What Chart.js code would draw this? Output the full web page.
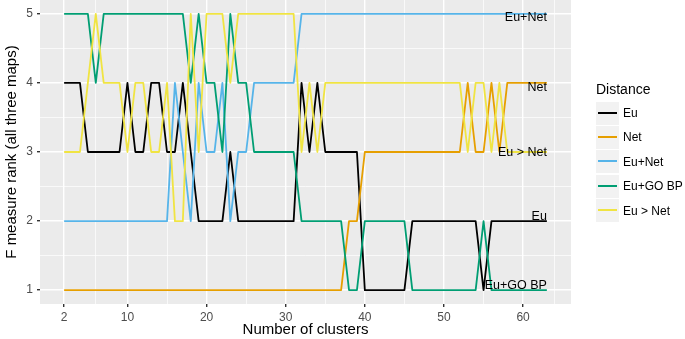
<!DOCTYPE html>
<html>
<head>
<meta charset="utf-8">
<script src="https://cdn.jsdelivr.net/npm/chart.js@4"></script>
<style>
  body { margin: 0; background: #fff; font-family: "Liberation Sans", Arial, sans-serif; }
  #wrap { position: relative; width: 685px; height: 339px; }
  #legend { position: absolute; left: 596px; top: 81px; }
  #legend .ttl { font-size: 14px; color: #000; height: 20px; line-height: 16px; }
  #legend .row { display: flex; align-items: center; height: 24px; margin-bottom: 0.4px; }
  #legend .key { width: 23px; height: 23px; background: #f2f2f2; position: relative; }
  #legend .key i { position: absolute; left: 2px; right: 2px; top: 10px; height: 2px; }
  #legend .lbl { font-size: 12px; margin-left: 4px; color: #000; }
</style>
</head>
<body>
<div id="wrap">
  <canvas id="rankChart" width="685" height="339"></canvas>
  <div id="legend"></div>
</div>
<script>
// number of clusters (x)
const clusters = [2, 3, 4, 5, 6, 7, 8, 9, 10, 11, 12, 13, 14, 15, 16, 17, 18, 19, 20, 21,
  22, 23, 24, 25, 26, 27, 28, 29, 30, 31, 32, 33, 34, 35, 36, 37, 38, 39, 40, 41,
  42, 43, 44, 45, 46, 47, 48, 49, 50, 51, 52, 53, 54, 55, 56, 57, 58, 59, 60, 61, 62, 63];

// F measure rank for each distance
const rankEu = [4, 4, 4, 3, 3, 3, 3, 3, 4, 3, 3, 4, 4, 3, 3, 4, 3, 2, 2, 2,
  2, 3, 2, 2, 2, 2, 2, 2, 2, 2, 4, 3, 4, 3, 3, 3, 3, 3, 1, 1,
  1, 1, 1, 1, 2, 2, 2, 2, 2, 2, 2, 2, 2, 1, 2, 2, 2, 2, 2, 2, 2, 2];
const rankNet = [1, 1, 1, 1, 1, 1, 1, 1, 1, 1, 1, 1, 1, 1, 1, 1, 1, 1, 1, 1,
  1, 1, 1, 1, 1, 1, 1, 1, 1, 1, 1, 1, 1, 1, 1, 1, 2, 2, 3, 3,
  3, 3, 3, 3, 3, 3, 3, 3, 3, 3, 3, 4, 3, 3, 4, 3, 4, 4, 4, 4, 4, 4];
const rankEuNet = [2, 2, 2, 2, 2, 2, 2, 2, 2, 2, 2, 2, 2, 2, 4, 3, 2, 4, 3, 3,
  4, 2, 3, 3, 4, 4, 4, 4, 4, 4, 5, 5, 5, 5, 5, 5, 5, 5, 5, 5,
  5, 5, 5, 5, 5, 5, 5, 5, 5, 5, 5, 5, 5, 5, 5, 5, 5, 5, 5, 5, 5, 5];
const rankEuGO = [5, 5, 5, 5, 4, 5, 5, 5, 5, 5, 5, 5, 5, 5, 5, 5, 4, 5, 4, 4,
  3, 5, 4, 4, 3, 3, 3, 3, 3, 3, 2, 2, 2, 2, 2, 2, 1, 1, 2, 2,
  2, 2, 2, 2, 1, 1, 1, 1, 1, 1, 1, 1, 1, 2, 1, 1, 1, 1, 1, 1, 1, 1];
const rankEuGtNet = [3, 3, 3, 4, 5, 4, 4, 4, 3, 4, 4, 3, 3, 4, 2, 2, 5, 3, 5, 5,
  5, 4, 5, 5, 5, 5, 5, 5, 5, 5, 3, 4, 3, 4, 4, 4, 4, 4, 4, 4,
  4, 4, 4, 4, 4, 4, 4, 4, 4, 4, 4, 3, 4, 4, 3, 4, 3, 3, 3, 3, 3, 3];

const seriesNames = ["Eu", "Net", "Eu+Net", "Eu+GO BP", "Eu > Net"];
const seriesColors = ["#000000", "#E69F00", "#56B4E9", "#009E73", "#F0E442"];
const seriesRanks = [rankEu, rankNet, rankEuNet, rankEuGO, rankEuGtNet];

// tick labels and grid breaks
const xMajor = [2, 10, 20, 30, 40, 50, 60];
const xMinor = [6, 15, 25, 35, 45, 55, 64];
const yMajor = [1, 2, 3, 4, 5];
const yMinor = [1.5, 2.5, 3.5, 4.5];

// labels written at the end of the lines (x = 63)
const endLabels = ["Eu+Net", "Net", "Eu > Net", "Eu", "Eu+GO BP"];
const endLabelY = [4.94, 3.93, 2.99, 2.06, 1.06];

const panelBg = {
  id: "panelBg",
  beforeDraw(chart) {
    const a = chart.chartArea, c = chart.ctx;
    c.save();
    c.fillStyle = "#ebebeb";
    c.fillRect(a.left, a.top, a.right - a.left, a.bottom - a.top);
    c.restore();
  }
};

const lineLabels = {
  id: "lineLabels",
  afterDatasetsDraw(chart) {
    const c = chart.ctx, xs = chart.scales.x, ys = chart.scales.y;
    c.save();
    c.font = "12.5px 'Liberation Sans', Arial, sans-serif";
    c.fillStyle = "#000";
    c.textAlign = "right";
    c.textBaseline = "middle";
    endLabels.forEach((t, i) => {
      c.fillText(t, xs.getPixelForValue(clusters[clusters.length - 1]), ys.getPixelForValue(endLabelY[i]));
    });
    c.restore();
  }
};

const isMajor = (list, v) => list.indexOf(v) !== -1;
const noPad = s => { s.paddingTop = 0; s.paddingBottom = 0; s.paddingLeft = 0; s.paddingRight = 0; };

const datasets = seriesNames.map((name, i) => ({
  label: name,
  data: clusters.map((x, j) => ({ x: x, y: seriesRanks[i][j] })),
  borderColor: seriesColors[i],
  borderWidth: 1.8,
  borderJoinStyle: "round",
  borderCapStyle: "butt",
  pointRadius: 0,
  tension: 0,
  fill: false,
  order: seriesNames.length - i
}));

new Chart(document.getElementById("rankChart"), {
  type: "line",
  data: { datasets: datasets },
  options: {
    responsive: false,
    animation: false,
    layout: { padding: { top: 0, right: 114, bottom: 0, left: 0 } },
    plugins: { legend: { display: false }, tooltip: { enabled: false } },
    scales: {
      x: {
        type: "linear",
        min: -1.05,
        max: 66.05,
        afterBuildTicks: s => { s.ticks = xMajor.concat(xMinor).sort((a, b) => a - b).map(v => ({ value: v })); },
        afterFit: s => { s.height = 35; noPad(s); },
        ticks: {
          autoSkip: false,
          maxRotation: 0,
          padding: 3,
          color: "#4d4d4d",
          font: { family: "'Liberation Sans', Arial, sans-serif", size: 12 },
          callback: v => isMajor(xMajor, v) ? String(v) : ""
        },
        grid: {
          color: "#ffffff",
          lineWidth: ctx => isMajor(xMajor, ctx.tick.value) ? 1.4 : 0.7,
          tickColor: ctx => isMajor(xMajor, ctx.tick.value) ? "#333333" : "rgba(0,0,0,0)",
          tickLength: 3
        },
        border: { display: false },
        title: {
          display: true,
          text: "Number of clusters",
          color: "#000",
          font: { family: "'Liberation Sans', Arial, sans-serif", size: 15 },
          padding: { top: 0, bottom: 0 }
        }
      },
      y: {
        min: 0.8,
        max: 5.2,
        afterBuildTicks: s => { s.ticks = yMajor.concat(yMinor).sort((a, b) => a - b).map(v => ({ value: v })); },
        afterFit: s => { s.width = 40; noPad(s); },
        ticks: {
          autoSkip: false,
          padding: 4,
          color: "#4d4d4d",
          font: { family: "'Liberation Sans', Arial, sans-serif", size: 12 },
          callback: v => isMajor(yMajor, v) ? String(v) : ""
        },
        grid: {
          color: "#ffffff",
          lineWidth: ctx => isMajor(yMajor, ctx.tick.value) ? 1.4 : 0.7,
          tickColor: ctx => isMajor(yMajor, ctx.tick.value) ? "#333333" : "rgba(0,0,0,0)",
          tickLength: 3
        },
        border: { display: false },
        title: {
          display: true,
          text: "F measure rank (all three maps)",
          color: "#000",
          font: { family: "'Liberation Sans', Arial, sans-serif", size: 15 },
          padding: { top: 3, bottom: 0 }
        }
      }
    }
  },
  plugins: [panelBg, lineLabels]
});

// ggplot style legend
const legend = document.getElementById("legend");
let html = '<div class="ttl">Distance</div>';
seriesNames.forEach((name, i) => {
  html += '<div class="row"><div class="key"><i style="background:' + seriesColors[i] + '"></i></div>' +
    '<span class="lbl">' + name + '</span></div>';
});
legend.innerHTML = html;
</script>
</body>
</html>
